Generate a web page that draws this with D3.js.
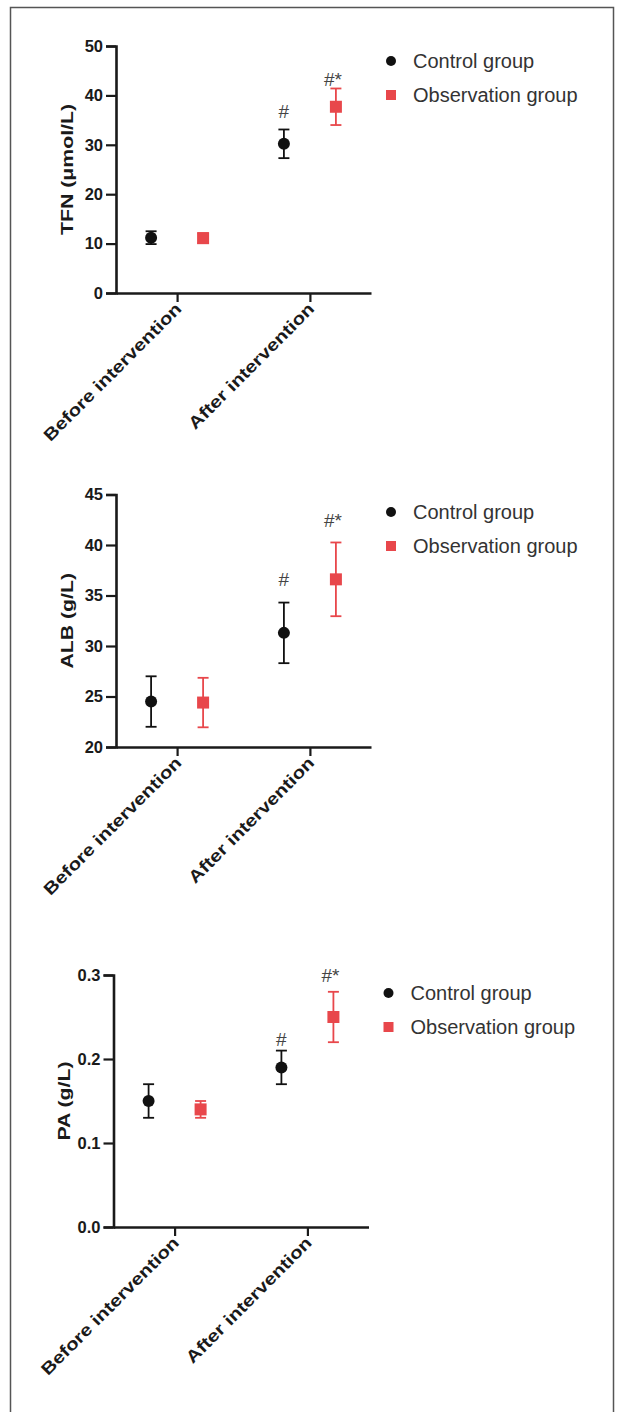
<!DOCTYPE html>
<html>
<head>
<meta charset="utf-8">
<script src="https://cdn.jsdelivr.net/npm/d3@7"></script>
<style>
  body { margin: 0; background: #fff; }
  svg { display: block; font-family: "Liberation Sans", Arial, sans-serif; }
</style>
</head>
<body>
<div id="chart"></div>
<script>
// categories and groups
const categories = ['Before intervention', 'After intervention'];
const groups = ['Control group', 'Observation group'];

// TFN (umol/L)
const tfnControl = [11.2, 30.2];
const tfnControlSD = [1.3, 2.9];
const tfnObs = [11.1, 37.7];
const tfnObsSD = [1.0, 3.7];
const tfnTicks = [0, 10, 20, 30, 40, 50];

// ALB (g/L)
const albControl = [24.5, 31.3];
const albControlSD = [2.5, 3.0];
const albObs = [24.4, 36.6];
const albObsSD = [2.45, 3.65];
const albTicks = [20, 25, 30, 35, 40, 45];

// PA (g/L)
const paControl = [0.15, 0.19];
const paControlSD = [0.02, 0.02];
const paObs = [0.14, 0.25];
const paObsSD = [0.01, 0.03];
const paTicks = [0, 0.1, 0.2, 0.3];

// significance marks on the "After" column, with the value they sit at
const marks = ['#', '#*'];
const tfnMarkAt = [36.7, 43.3];
const albMarkAt = [36.6, 42.4];
const paMarkAt = [0.223, 0.3];

const panels = [
  { label: 'TFN (\u03bcmol/L)', control: tfnControl, controlSD: tfnControlSD, obs: tfnObs, obsSD: tfnObsSD,
    ticks: tfnTicks, fmt: d3.format('d'), markAt: tfnMarkAt,
    top: 46, bottom: 293, dx: 0, legendY: 61 },
  { label: 'ALB (g/L)', control: albControl, controlSD: albControlSD, obs: albObs, obsSD: albObsSD,
    ticks: albTicks, fmt: d3.format('d'), markAt: albMarkAt,
    top: 494.5, bottom: 747, dx: 0, legendY: 512 },
  { label: 'PA (g/L)', control: paControl, controlSD: paControlSD, obs: paObs, obsSD: paObsSD,
    ticks: paTicks, fmt: d3.format('.1f'), markAt: paMarkAt,
    top: 975, bottom: 1227, dx: -2.5, legendY: 993 }
];

const colors = { control: '#111111', obs: '#e8474b' };
const W = 618, H = 1412;

const svg = d3.select('#chart').append('svg')
  .attr('width', W)
  .attr('height', H);

svg.append('rect').attr('width', W).attr('height', H).attr('fill', '#fff');

// outer frame (bottom edge is cut off in the original)
svg.append('rect')
  .attr('x', 10.5).attr('y', 7.5)
  .attr('width', 603).attr('height', H + 20)
  .attr('fill', 'none')
  .attr('stroke', '#555')
  .attr('stroke-width', 1.5);

function drawPanel(p) {
  const g = svg.append('g').attr('transform', `translate(${p.dx},0)`);
  const axisLeft = 116, axisRight = 371;

  const y = d3.scaleLinear()
    .domain(d3.extent(p.ticks))
    .range([p.bottom, p.top]);

  const x = d3.scalePoint()
    .domain(categories)
    .range([axisLeft, axisRight])
    .padding(0.46);

  const offset = d3.scalePoint()
    .domain(groups)
    .range([-26, 26]);

  // y axis
  const yAxis = g.append('g')
    .attr('transform', `translate(${axisLeft},0)`)
    .call(d3.axisLeft(y).tickValues(p.ticks).tickFormat(p.fmt).tickSize(10).tickPadding(3));
  yAxis.select('.domain').attr('stroke', '#1a1a1a').attr('stroke-width', 2.6);
  yAxis.selectAll('.tick line').attr('stroke', '#1a1a1a').attr('stroke-width', 2.2);
  yAxis.selectAll('.tick text')
    .attr('fill', '#1a1a1a')
    .attr('font-size', 16.5)
    .attr('font-weight', 'bold');

  // x axis
  const xAxis = g.append('g')
    .attr('transform', `translate(0,${p.bottom})`)
    .call(d3.axisBottom(x).tickSize(9).tickSizeOuter(0));
  xAxis.select('.domain').attr('stroke', '#1a1a1a').attr('stroke-width', 2.6);
  xAxis.selectAll('.tick line').attr('stroke', '#1a1a1a').attr('stroke-width', 2.2);
  xAxis.selectAll('.tick text')
    .attr('fill', '#1a1a1a')
    .attr('font-size', 17)
    .attr('font-weight', 'bold')
    .attr('text-anchor', 'end')
    .attr('x', 0).attr('y', 0).attr('dy', 0)
    .attr('transform', 'translate(5,17) rotate(-45) scale(1.2,1)');

  // y axis title
  g.append('text')
    .attr('transform', `translate(67,${(p.top + p.bottom) / 2}) rotate(-90) scale(1.25,1)`)
    .attr('text-anchor', 'middle')
    .attr('dominant-baseline', 'central')
    .attr('fill', '#1a1a1a')
    .attr('font-size', 17)
    .attr('font-weight', 'bold')
    .text(p.label);

  const series = [
    { key: 'control', name: groups[0], mean: p.control, sd: p.controlSD },
    { key: 'obs', name: groups[1], mean: p.obs, sd: p.obsSD }
  ];

  series.forEach(s => {
    const pts = categories.map((c, i) => ({
      cx: x(c) + offset(s.name),
      m: s.mean[i],
      sd: s.sd[i]
    }));
    const col = colors[s.key];
    const eb = g.append('g').attr('stroke', col).attr('stroke-width', 1.8);

    eb.selectAll('.v').data(pts).join('line')
      .attr('x1', d => d.cx).attr('x2', d => d.cx)
      .attr('y1', d => y(d.m - d.sd)).attr('y2', d => y(d.m + d.sd));
    eb.selectAll('.top').data(pts).join('line')
      .attr('x1', d => d.cx - 5.5).attr('x2', d => d.cx + 5.5)
      .attr('y1', d => y(d.m + d.sd)).attr('y2', d => y(d.m + d.sd));
    eb.selectAll('.bot').data(pts).join('line')
      .attr('x1', d => d.cx - 5.5).attr('x2', d => d.cx + 5.5)
      .attr('y1', d => y(d.m - d.sd)).attr('y2', d => y(d.m - d.sd));

    if (s.key === 'control') {
      g.selectAll(null).data(pts).join('circle')
        .attr('cx', d => d.cx).attr('cy', d => y(d.m))
        .attr('r', 6).attr('fill', col);
    } else {
      g.selectAll(null).data(pts).join('rect')
        .attr('x', d => d.cx - 6).attr('y', d => y(d.m) - 6)
        .attr('width', 12).attr('height', 12).attr('fill', col);
    }
  });

  // significance marks on the after-intervention column
  g.selectAll(null).data(marks).join('text')
    .attr('x', (d, i) => x(categories[1]) + offset(groups[i]) - (i === 1 ? 3 : 0))
    .attr('y', (d, i) => y(p.markAt[i]))
    .attr('text-anchor', 'middle')
    .attr('dominant-baseline', 'central')
    .attr('fill', '#444')
    .attr('font-size', 19)
    .text(d => d);

  // legend
  const lg = svg.append('g').attr('transform', `translate(${391 + p.dx},${p.legendY})`);
  lg.append('circle').attr('cx', 0).attr('cy', 0).attr('r', 5).attr('fill', colors.control);
  lg.append('rect').attr('x', -5).attr('y', 34 - 5).attr('width', 10).attr('height', 10).attr('fill', colors.obs);
  lg.selectAll('text').data(groups).join('text')
    .attr('x', 22)
    .attr('y', (d, i) => i * 34)
    .attr('dominant-baseline', 'central')
    .attr('fill', '#333')
    .attr('font-size', 20)
    .text(d => d);
}

panels.forEach(drawPanel);
</script>
</body>
</html>
